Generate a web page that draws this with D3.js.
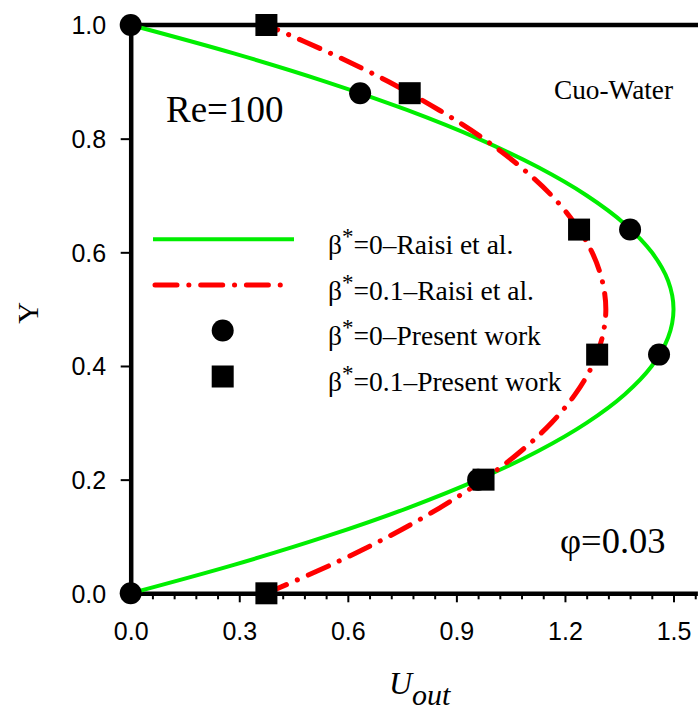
<!DOCTYPE html>
<html>
<head>
<meta charset="utf-8">
<script src="https://cdn.jsdelivr.net/npm/d3@7"></script>
<style>
  body { margin: 0; background: #fff; }
  svg { display: block; }
</style>
</head>
<body>
<div id="chart"></div>
<script>
///data
var yLevels = [0, 0.05, 0.1, 0.15, 0.2, 0.25, 0.3, 0.35, 0.4, 0.45, 0.5, 0.55, 0.6, 0.65, 0.7, 0.75, 0.8, 0.85, 0.9, 0.95, 1];
var uBeta0 = [0, 0.285, 0.54, 0.765, 0.96, 1.125, 1.26, 1.365, 1.44, 1.485, 1.5, 1.485, 1.44, 1.365, 1.26, 1.125, 0.96, 0.765, 0.54, 0.285, 0];
var uBeta01 = [0.375, 0.553, 0.713, 0.853, 0.975, 1.078, 1.163, 1.228, 1.275, 1.303, 1.313, 1.303, 1.275, 1.228, 1.163, 1.078, 0.975, 0.853, 0.713, 0.553, 0.375];

var pointY = [0, 0.2, 0.42, 0.64, 0.88, 1];
var circleU = [0, 0.96, 1.46, 1.38, 0.634, 0];
var squareU = [0.375, 0.975, 1.289, 1.239, 0.771, 0.375];

var xTicks = [0, 0.3, 0.6, 0.9, 1.2, 1.5];
var xMinorTicks = [0.06, 0.12, 0.18, 0.24, 0.36, 0.42, 0.48, 0.54, 0.66, 0.72, 0.78, 0.84, 0.96, 1.02, 1.08, 1.14, 1.26, 1.32, 1.38, 1.44, 1.56];
var yTicks = [0, 0.2, 0.4, 0.6, 0.8, 1.0];

var legendLabels = ['=0\u2013Raisi et al.', '=0.1\u2013Raisi et al.', '=0\u2013Present work', '=0.1\u2013Present work'];

///sizes
var width = 698, height = 710;
var plotLeft = 130.7, plotRight = 697.4, plotTop = 25, plotBottom = 593.3;

var x = d3.scaleLinear().domain([0, 1.566]).range([plotLeft, plotRight]);
var y = d3.scaleLinear().domain([0, 1]).range([plotBottom, plotTop]);

var svg = d3.select('#chart').append('svg')
    .attr('width', width)
    .attr('height', height);

var sans = 'Liberation Sans, Arial, sans-serif';
var serif = 'Liberation Serif, Times New Roman, serif';

///axes
var xAxis = svg.append('g')
    .attr('transform', `translate(0,${plotBottom})`)
    .call(d3.axisBottom(x).tickValues(xTicks).tickSize(9).tickSizeOuter(0).tickFormat(d3.format('.1f')));

svg.append('g')
    .attr('transform', `translate(0,${plotBottom})`)
    .call(d3.axisBottom(x).tickValues(xMinorTicks).tickSize(6).tickSizeOuter(0).tickFormat(''))
    .call(g => g.select('.domain').remove())
    .selectAll('line').attr('stroke-width', 2);

var yAxis = svg.append('g')
    .attr('transform', `translate(${plotLeft},0)`)
    .call(d3.axisLeft(y).tickValues(yTicks).tickSize(10).tickSizeOuter(0).tickFormat(d3.format('.1f')));

[xAxis, yAxis].forEach(g => {
    g.select('.domain').attr('stroke-width', 4.5);
    g.selectAll('.tick line').attr('stroke-width', 2);
    g.selectAll('.tick text')
        .attr('fill', '#000')
        .style('font-family', sans)
        .style('font-size', '25px');
});
xAxis.selectAll('.tick text').attr('y', 29).attr('dy', '0.71em');
yAxis.selectAll('.tick text').attr('x', -24.5).attr('dy', '0.35em');

// top frame line
svg.append('line')
    .attr('x1', plotLeft - 2.25).attr('x2', width)
    .attr('y1', plotTop).attr('y2', plotTop)
    .attr('stroke', '#000').attr('stroke-width', 4.5);

///curves
var line = d3.line()
    .x(d => x(d[0]))
    .y(d => y(d[1]))
    .curve(d3.curveCatmullRom);

svg.append('path')
    .datum(yLevels.map((v, i) => [uBeta0[i], v]))
    .attr('d', line)
    .attr('fill', 'none')
    .attr('stroke', '#00ee00')
    .attr('stroke-width', 4);

var dashDot = '22 11.8 0.1 11.8';
svg.append('path')
    .datum(yLevels.map((v, i) => [uBeta01[i], v]))
    .attr('d', line)
    .attr('fill', 'none')
    .attr('stroke', '#ff0000')
    .attr('stroke-width', 5)
    .attr('stroke-linecap', 'round')
    .attr('stroke-dasharray', dashDot);

///markers
svg.selectAll('circle.pt')
    .data(pointY.map((v, i) => [circleU[i], v]))
    .join('circle')
    .attr('class', 'pt')
    .attr('cx', d => x(d[0]))
    .attr('cy', d => y(d[1]))
    .attr('r', 11)
    .attr('fill', '#000');

svg.selectAll('rect.pt')
    .data(pointY.map((v, i) => [squareU[i], v]))
    .join('rect')
    .attr('class', 'pt')
    .attr('x', d => x(d[0]) - 11)
    .attr('y', d => y(d[1]) - 11)
    .attr('width', 22)
    .attr('height', 22)
    .attr('fill', '#000');

///legend
var legRowY = [239.3, 285, 330.5, 376.5];
var leg = svg.append('g');

leg.append('line')
    .attr('x1', 153).attr('x2', 294)
    .attr('y1', legRowY[0]).attr('y2', legRowY[0])
    .attr('stroke', '#00ee00').attr('stroke-width', 4);

leg.append('line')
    .attr('x1', 155).attr('x2', 290)
    .attr('y1', legRowY[1]).attr('y2', legRowY[1])
    .attr('stroke', '#ff0000').attr('stroke-width', 5)
    .attr('stroke-linecap', 'round')
    .attr('stroke-dasharray', dashDot);

leg.append('circle')
    .attr('cx', 222.7).attr('cy', legRowY[2]).attr('r', 11).attr('fill', '#000');

leg.append('rect')
    .attr('x', 222.7 - 11).attr('y', legRowY[3] - 11)
    .attr('width', 22).attr('height', 22).attr('fill', '#000');

var legText = leg.selectAll('text.leg')
    .data(legendLabels)
    .join('text')
    .attr('class', 'leg')
    .attr('x', 328)
    .attr('y', (d, i) => legRowY[i] + 14.5)
    .style('font-family', serif)
    .style('font-size', '27.5px');

legText.append('tspan').text('\u03b2');
legText.append('tspan').attr('dy', -10).style('font-size', '23px').text('*');
legText.append('tspan').attr('dy', 10).text(d => d);

///annotations
svg.append('text')
    .attr('x', 166).attr('y', 121.5)
    .style('font-family', serif).style('font-size', '37px')
    .text('Re=100');

svg.append('text')
    .attr('x', 554).attr('y', 99)
    .style('font-family', serif).style('font-size', '27.3px')
    .text('Cuo-Water');

svg.append('text')
    .attr('x', 560).attr('y', 553)
    .style('font-family', serif).style('font-size', '36.5px')
    .text('\u03c6=0.03');

///axis titles
svg.append('text')
    .attr('transform', 'translate(38,313) rotate(-90)')
    .attr('text-anchor', 'middle')
    .style('font-family', serif).style('font-size', '30px')
    .text('Y');

var xt = svg.append('text')
    .attr('x', 389).attr('y', 694)
    .style('font-family', serif).style('font-style', 'italic').style('font-size', '32px');
xt.append('tspan').text('U');
xt.append('tspan').attr('dy', 11).style('font-size', '30px').text('out');
</script>
</body>
</html>
